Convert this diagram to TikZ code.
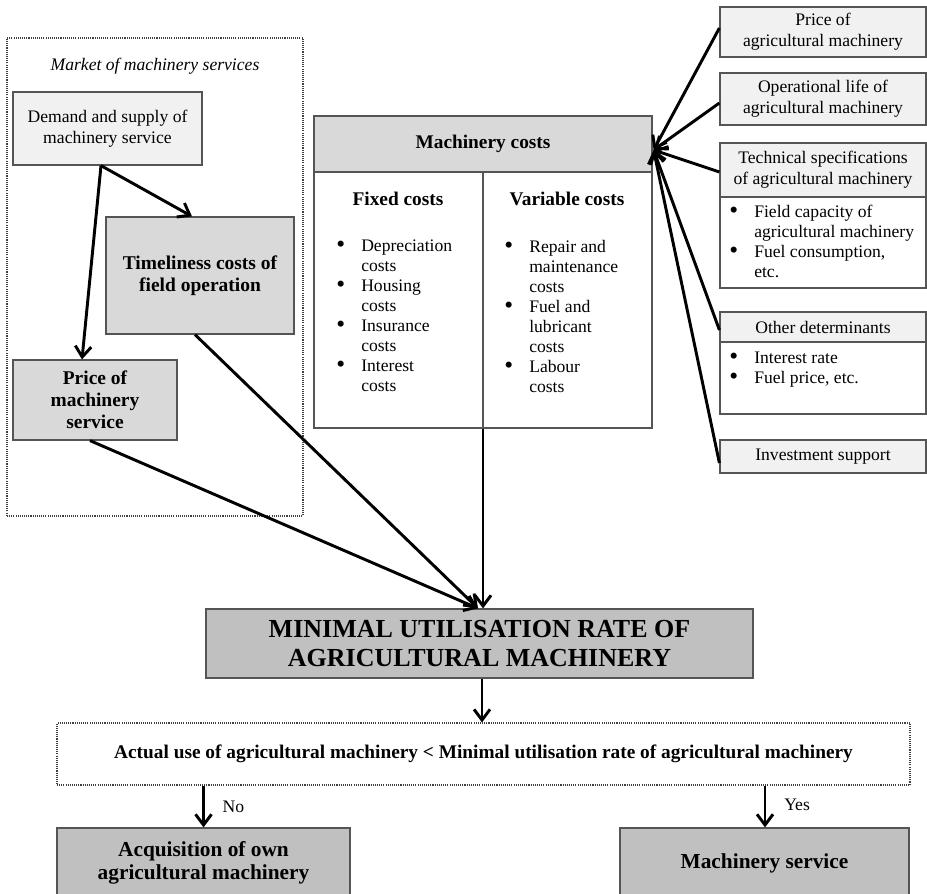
\documentclass[tikz,border=0pt]{standalone}
\usepackage{fontspec}
\setmainfont{Liberation Serif}
\usetikzlibrary{arrows.meta,calc}
\newcommand{\lbul}{\makebox[18.75pt][l]{\smash{\raisebox{-0.6pt}{\fontsize{19}{15}\selectfont\textbullet}}}}
\newcommand{\lind}{\hspace*{18.75pt}}
\definecolor{lightfill}{HTML}{F1F1F1}
\definecolor{midfill}{HTML}{D9D9D9}
\definecolor{darkfill}{HTML}{C0C0C0}
\definecolor{edgecol}{HTML}{555555}
\begin{document}
\begin{tikzpicture}[x=0.75pt,y=-0.75pt,
  sz/.style 2 args={minimum width=#1*0.75pt, minimum height=#2*0.75pt},
  box/.style={draw=edgecol, line width=0.9pt, rectangle, inner sep=0pt, align=center},
  regtext/.style={font=\fontsize{13.2}{15.5}\selectfont},
  boldtext/.style={font=\fontsize{14.6}{16.5}\selectfont\bfseries},
  listtext/.style={font=\fontsize{13.2}{15}\selectfont, align=left, inner sep=0pt, anchor=north west},
  dotbox/.style={draw=black!75, line width=0.8pt, dash pattern=on 0.8pt off 0.8pt, rectangle, inner sep=0pt},
  arr/.style={line width=2.2pt, -{Straight Barb[length=8pt,width=12pt]}},
]
\useasboundingbox (0,0) rectangle (927,893);

% ---------- left market frame ----------
\node[dotbox, sz={296}{478}] (market) at (155,277) {};
\node[font=\fontsize{13.2}{15}\selectfont\itshape] (markettitle) at (155,66) {Market of machinery services};
\node[box, fill=lightfill, sz={189}{73}, regtext] (demand) at (107.5,128.5) {Demand and supply of\\machinery service};
\node[box, fill=midfill, sz={188}{117}, boldtext] (timeliness) at (200,275.5) {Timeliness costs of\\field operation};
\node[box, fill=midfill, sz={164}{80}, boldtext] (pricesvc) at (95,400) {Price of\\machinery\\service};

% ---------- machinery costs ----------
\node[box, fill=midfill, sz={338}{56}, font=\fontsize{14.5}{16.5}\selectfont\bfseries] (mchead) at (483,144) {Machinery costs};
\node[box, fill=white, sz={338}{256}] (mcbody) at (483,300) {};
\draw[draw=edgecol, line width=0.9pt] (mchead.south) -- (mcbody.south);
\node[font=\fontsize{14.5}{16.5}\selectfont\bfseries] (fixedlbl) at (398,199) {Fixed costs};
\node[font=\fontsize{14.5}{16.5}\selectfont\bfseries] (varlbl) at (567,199) {Variable costs};
\node[listtext] (fixedlist) at (336,240) {\lbul Depreciation\\\lind costs\\\lbul Housing\\\lind costs\\\lbul Insurance\\\lind costs\\\lbul Interest\\\lind costs};
\node[listtext] (varlist) at (504,240) {\lbul Repair and\\\lind maintenance\\\lind costs\\\lbul Fuel and\\\lind lubricant\\\lind costs\\\lbul Labour\\\lind costs};

% ---------- right determinants ----------
\node[box, fill=lightfill, sz={206}{50}, regtext] (rprice) at (823,32) {Price of\\agricultural machinery};
\node[box, fill=lightfill, sz={206}{52}, regtext] (roper) at (823,99) {Operational life of\\agricultural machinery};
\node[box, fill=lightfill, sz={206}{54}, regtext] (rtech) at (823,170) {Technical specifications\\of agricultural machinery};
\node[box, fill=white, sz={206}{91}] (rtechbody) at (823,242.5) {};
\node[listtext] (techlist) at (729,205) {\lbul Field capacity of\\\lind agricultural machinery\\\lbul Fuel consumption,\\\lind etc.};
\node[box, fill=lightfill, sz={206}{30}, regtext] (rother) at (823,327) {Other determinants};
\node[box, fill=white, sz={206}{72}] (rotherbody) at (823,378) {};
\node[listtext] (otherlist) at (729,352) {\lbul Interest rate\\\lbul Fuel price, etc.};
\node[box, fill=lightfill, sz={206}{33}, regtext] (rinv) at (823,456.5) {Investment support};

% ---------- bottom part ----------
\node[box, fill=darkfill, sz={547}{69}, font=\fontsize{19.5}{21.75}\selectfont\bfseries] (minimal) at (479.5,643.5) {MINIMAL UTILISATION RATE OF\\AGRICULTURAL MACHINERY};
\node[dotbox, sz={853}{62}, font=\fontsize{14.5}{16.5}\selectfont\bfseries] (decision) at (483.5,754) {Actual use of agricultural machinery < Minimal utilisation rate of agricultural machinery};
\node[box, fill=darkfill, sz={293}{70}, font=\fontsize{16}{17.25}\selectfont\bfseries] (acq) at (203.5,863) {Acquisition of own\\agricultural machinery};
\node[box, fill=darkfill, sz={289}{70}, font=\fontsize{16}{17.25}\selectfont\bfseries] (msvc) at (764.5,863) {Machinery service};

% ---------- connectors ----------
\draw[arr] ($(demand.south)+(-6.5,0)$) -- ($(pricesvc.north)+(-13,0)$);
\draw[arr] ($(demand.south)+(-6.5,0)$) -- ($(timeliness.north)+(-8,0)$);
\draw[arr] ($(timeliness.south)+(-5,0)$) -- ($(minimal.north)+(-1.5,0)$);
\draw[arr] ($(pricesvc.south)+(-5,0)$) -- ($(minimal.north)+(-1.5,0)$);
\draw[arr] (mcbody.south) -- ($(minimal.north)+(3.5,0)$);

\coordinate (conv) at ($(mchead.east)+(1,6)$);
\draw[arr] ($(rprice.west)+(0,-4)$) -- (conv);
\draw[arr] ($(roper.west)+(0,4)$) -- (conv);
\draw[arr] ($(rtech.west)+(0,2)$) -- (conv);
\draw[arr] ($(rother.west)+(0,3)$) -- (conv);
\draw[arr] ($(rinv.west)+(0,6.5)$) -- (conv);

\draw[arr] ($(minimal.south)+(2.5,0)$) -- ($(decision.north)+(-1.5,0)$);
\draw[arr] (decision.south -| acq.north) -- (acq.north) node[midway, right=10pt, regtext] (nolbl) {No};
\draw[arr] ($(decision.south -| msvc.north)+(0.5,0)$) -- ($(msvc.north)+(0.5,0)$) node[midway, right=10pt, regtext, yshift=1.5pt] (yeslbl) {Yes};
\end{tikzpicture}
\end{document}
